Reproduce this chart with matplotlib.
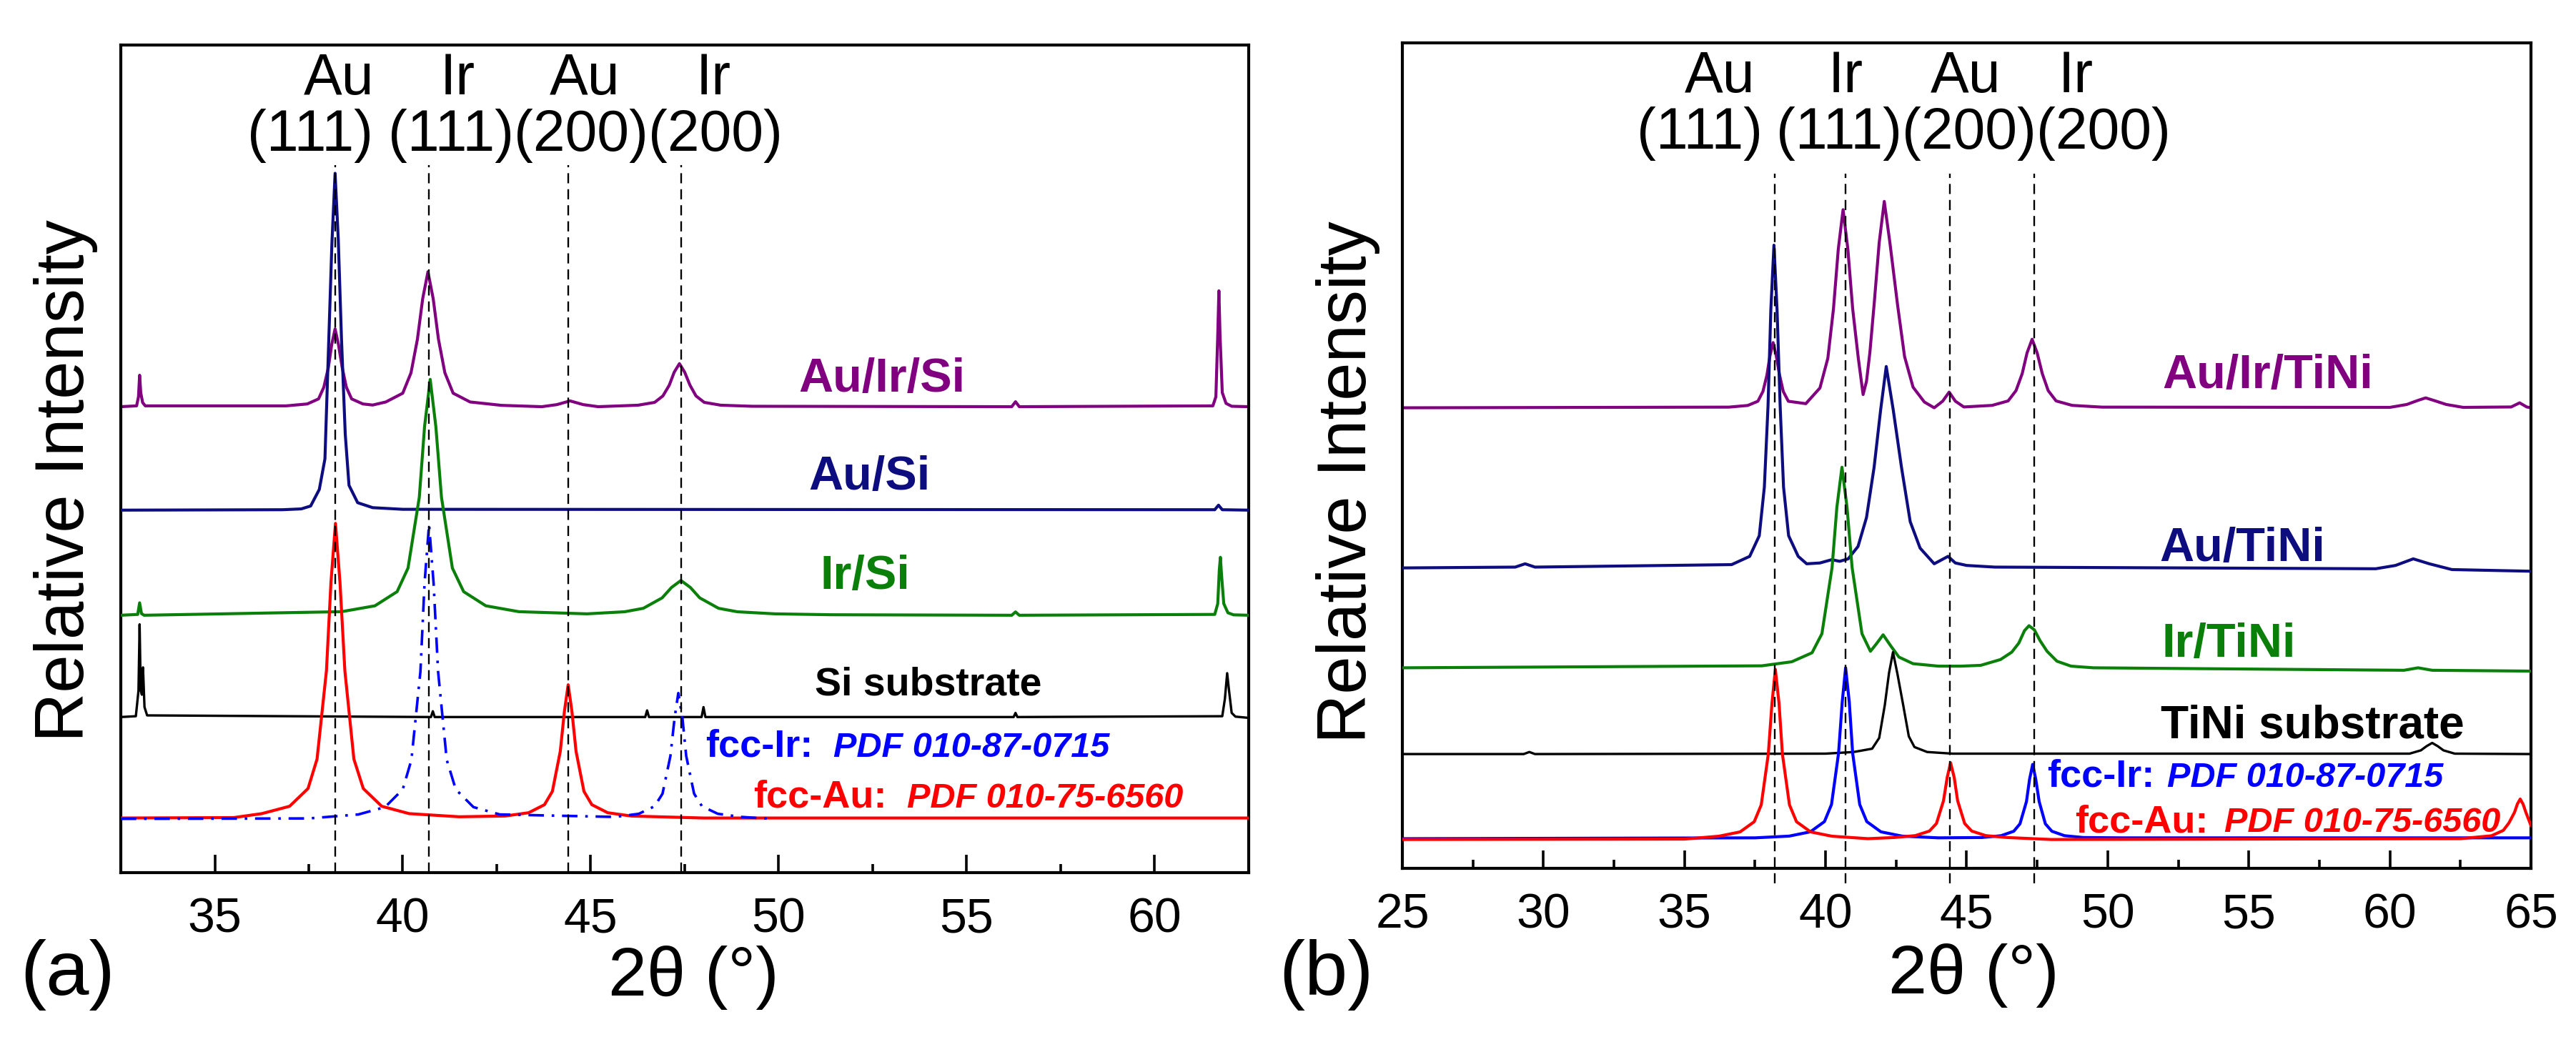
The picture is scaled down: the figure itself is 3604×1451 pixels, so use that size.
import matplotlib
matplotlib.use("Agg")
import matplotlib.pyplot as plt
from matplotlib.ticker import MultipleLocator

plt.rcParams['font.family'] = ['Liberation Sans', 'DejaVu Sans']

# ---------------- data : panel (a)  (x = 2theta, y = relative intensity, a.u.) ----------------
a_au_ir_si = [(32.5, 56.3), (32.92, 56.4), (32.97, 57.5), (33.0, 60.1), (33.03, 58.0), (33.08, 56.8),
              (33.15, 56.4), (36.9, 56.4), (37.46, 56.63), (37.76, 57.24), (37.9, 58.65), (38.02, 61.0),
              (38.11, 63.8), (38.2, 65.7), (38.29, 63.8), (38.39, 61.0), (38.5, 58.65), (38.64, 57.24),
              (38.94, 56.63), (39.2, 56.5), (39.55, 56.87), (40.0, 57.93), (40.22, 60.4), (40.39, 64.45),
              (40.53, 69.34), (40.67, 72.6), (40.81, 69.34), (40.95, 64.45), (41.12, 60.4), (41.34, 57.93),
              (41.79, 56.87), (42.63, 56.46), (43.7, 56.3), (44.1, 56.55), (44.45, 57.0), (44.8, 56.55),
              (45.2, 56.3), (46.26, 56.48), (46.7, 56.82), (46.92, 57.6), (47.09, 58.9), (47.22, 60.46),
              (47.36, 61.5), (47.5, 60.46), (47.64, 58.9), (47.8, 57.6), (48.02, 56.82), (48.46, 56.48),
              (49.29, 56.35), (56.2, 56.3), (56.3, 56.9), (56.4, 56.3), (61.55, 56.4), (61.63, 57.5),
              (61.68, 65.0), (61.71, 70.3), (61.74, 65.0), (61.8, 58.0), (61.9, 56.7), (62.05, 56.35),
              (62.5, 56.3)]
a_au_si = [(32.5, 43.8), (36.8, 43.85), (37.3, 43.95), (37.55, 44.3), (37.78, 46.3), (37.93, 50.0),
           (38.03, 64.1), (38.115, 76.0), (38.2, 84.5), (38.285, 76.5), (38.37, 64.5), (38.47, 53.0),
           (38.57, 46.8), (38.8, 44.7), (39.2, 44.1), (40.0, 43.9), (61.6, 43.85), (61.7, 44.4),
           (61.8, 43.85), (62.5, 43.8)]
a_ir_si = [(32.5, 31.1), (32.95, 31.2), (33.0, 32.6), (33.05, 31.3), (33.12, 31.1), (38.37, 31.53),
           (39.26, 32.24), (39.85, 33.95), (40.14, 36.8), (40.44, 45.35), (40.58, 53.9), (40.73, 59.6),
           (40.88, 53.9), (41.03, 45.35), (41.32, 36.8), (41.62, 33.95), (42.21, 32.24), (43.09, 31.53),
           (44.9, 31.27), (45.9, 31.52), (46.4, 31.94), (46.9, 33.2), (47.15, 34.46), (47.4, 35.3),
           (47.65, 34.46), (47.9, 33.2), (48.4, 31.94), (48.9, 31.52), (49.9, 31.27), (51.4, 31.16),
           (56.2, 31.1), (56.3, 31.5), (56.4, 31.1), (61.6, 31.2), (61.68, 32.5), (61.72, 36.5),
           (61.75, 38.1), (61.78, 36.0), (61.84, 32.5), (61.95, 31.4), (62.1, 31.15), (62.5, 31.1)]
a_si_sub = [(32.5, 18.8), (32.9, 18.9), (32.97, 22.0), (33.0, 30.0), (33.03, 22.0), (33.06, 21.5),
            (33.09, 24.8), (33.13, 20.0), (33.2, 19.0), (40.75, 18.8), (40.8, 19.5), (40.85, 18.8),
            (46.45, 18.8), (46.5, 19.6), (46.55, 18.8), (47.95, 18.8), (48.0, 20.0), (48.05, 18.8),
            (56.25, 18.8), (56.3, 19.3), (56.35, 18.8), (61.8, 18.9), (61.87, 21.0), (61.93, 24.1),
            (61.98, 22.0), (62.05, 19.3), (62.15, 18.85), (62.5, 18.7)]
a_fcc_au = [(32.5, 6.6), (35.5, 6.65), (36.25, 7.13), (36.99, 8.02), (37.48, 10.16), (37.72, 13.72),
            (37.97, 24.4), (38.09, 35.08), (38.21, 42.2), (38.33, 35.08), (38.46, 24.4), (38.7, 13.72),
            (38.95, 10.16), (39.44, 8.02), (40.17, 7.13), (41.5, 6.75), (42.72, 6.84), (43.35, 7.24),
            (43.77, 8.21), (43.98, 9.82), (44.19, 14.65), (44.3, 19.48), (44.4, 22.7), (44.5, 19.48),
            (44.61, 14.65), (44.82, 9.82), (45.03, 8.21), (45.45, 7.24), (46.08, 6.84), (48.0, 6.6),
            (62.5, 6.6)]
a_fcc_ir = [(32.5, 6.5), (37.5, 6.55), (38.82, 7.03), (39.53, 7.92), (40.0, 10.06), (40.23, 13.62),
            (40.47, 24.3), (40.58, 34.98), (40.7, 42.1), (40.82, 34.98), (40.94, 24.3), (41.17, 13.62),
            (41.41, 10.06), (41.88, 7.92), (42.58, 7.03), (45.65, 6.73), (46.28, 7.11), (46.7, 8.02),
            (46.91, 9.54), (47.12, 14.1), (47.23, 18.66), (47.33, 21.7), (47.44, 18.66), (47.54, 14.1),
            (47.75, 9.54), (47.96, 8.02), (48.38, 7.11), (49.01, 6.73), (49.8, 6.5)]

# ---------------- data : panel (b) ----------------
b_au_ir_tini = [(25.0, 55.8), (36.57, 55.88), (37.24, 56.08), (37.6, 56.59), (37.78, 57.78), (37.92, 59.75),
                (38.03, 62.12), (38.14, 63.7), (38.25, 62.12), (38.37, 59.75), (38.5, 57.78), (38.68, 56.59),
                (39.3, 56.3), (39.8, 58.2), (40.08, 61.8), (40.28, 67.8), (40.45, 75.0), (40.62, 79.8),
                (40.79, 75.0), (40.96, 67.8), (41.16, 61.8), (41.33, 57.4), (41.45, 59.0), (41.57, 62.5),
                (41.72, 68.3), (41.9, 75.8), (42.08, 80.8), (42.28, 75.8), (42.55, 68.3), (42.8, 62.0),
                (43.1, 58.3), (43.5, 56.5), (43.85, 55.8), (44.15, 56.6), (44.38, 57.7), (44.6, 56.6),
                (44.9, 55.9), (45.9, 56.09), (46.47, 56.63), (46.75, 57.88), (46.97, 59.95), (47.14, 62.44),
                (47.32, 64.1), (47.5, 62.44), (47.68, 59.95), (47.89, 57.88), (48.17, 56.63), (48.74, 56.09),
                (49.8, 55.88), (60.0, 55.85), (60.6, 56.2), (61.0, 56.7), (61.27, 57.0), (61.55, 56.7),
                (62.0, 56.2), (62.6, 55.85), (64.3, 55.9), (64.6, 56.4), (64.85, 55.9), (65.0, 55.8)]
b_au_tini = [(25.0, 36.4), (29.0, 36.5), (29.35, 36.9), (29.7, 36.5), (36.67, 36.8), (37.31, 37.8),
             (37.65, 40.3), (37.83, 46.2), (37.96, 56.0), (38.06, 67.7), (38.17, 75.5), (38.28, 67.7),
             (38.39, 56.0), (38.51, 46.2), (38.69, 40.3), (39.03, 37.8), (39.33, 36.9), (39.8, 37.0),
             (40.22, 37.4), (40.5, 37.2), (40.8, 37.5), (41.15, 39.0), (41.45, 42.5), (41.72, 48.6),
             (41.95, 55.5), (42.15, 60.8), (42.4, 55.5), (42.69, 48.6), (43.0, 42.0), (43.35, 38.8),
             (43.85, 36.9), (44.34, 37.8), (44.6, 37.0), (45.0, 36.7), (46.0, 36.5), (59.5, 36.3),
             (60.2, 36.7), (60.83, 37.5), (61.4, 36.9), (62.2, 36.2), (65.0, 36.0)]
b_ir_tini = [(25.0, 24.3), (37.74, 24.54), (38.8, 25.03), (39.52, 26.12), (39.87, 28.43), (40.23, 36.45),
             (40.4, 43.74), (40.58, 48.6), (40.76, 43.74), (40.94, 36.45), (41.29, 28.43), (41.59, 26.3),
             (41.8, 27.2), (42.04, 28.3), (42.3, 27.0), (42.6, 25.6), (43.1, 24.8), (44.0, 24.5),
             (44.8, 24.5), (45.5, 24.6), (46.2, 25.3), (46.6, 26.2), (46.85, 27.3), (47.05, 28.8),
             (47.21, 29.4), (47.4, 28.9), (47.6, 27.6), (47.85, 26.3), (48.2, 25.1), (48.7, 24.5),
             (49.5, 24.3), (60.5, 24.0), (61.0, 24.3), (61.5, 24.0), (65.0, 23.9)]
b_tini_sub = [(25.0, 13.85), (29.3, 13.85), (29.5, 14.1), (29.7, 13.85), (40.0, 13.9), (41.0, 14.1),
              (41.65, 14.5), (41.9, 15.8), (42.1, 19.8), (42.25, 23.7), (42.39, 26.2), (42.55, 23.5),
              (42.75, 19.8), (42.95, 16.0), (43.15, 14.7), (43.6, 14.1), (44.5, 13.9), (60.7, 13.9),
              (61.1, 14.3), (61.3, 14.8), (61.5, 15.2), (61.7, 14.8), (61.9, 14.3), (62.3, 13.9),
              (65.0, 13.85)]
b_fcc_au = [(25.0, 3.5), (35.0, 3.55), (36.22, 3.9), (36.97, 4.42), (37.47, 5.65), (37.72, 7.7),
            (37.97, 13.85), (38.1, 20.0), (38.22, 24.1), (38.35, 20.0), (38.47, 13.85), (38.72, 7.7),
            (38.97, 5.65), (39.47, 4.42), (40.22, 3.9), (41.5, 3.6), (42.43, 3.74), (43.18, 3.97),
            (43.68, 4.52), (43.93, 5.44), (44.18, 8.2), (44.31, 11.0), (44.43, 12.8), (44.56, 11.0),
            (44.68, 8.2), (44.93, 5.44), (45.18, 4.52), (45.68, 3.97), (46.43, 3.74), (48.0, 3.5),
            (62.5, 3.6), (63.6, 3.95), (64.02, 4.6), (64.22, 5.5), (64.42, 6.8), (64.52, 7.8),
            (64.62, 8.4), (64.72, 7.8), (64.82, 6.8), (65.0, 5.2)]
b_fcc_ir = [(25.0, 3.6), (37.5, 3.7), (38.71, 3.91), (39.46, 4.43), (39.96, 5.67), (40.21, 7.74),
            (40.46, 13.95), (40.59, 20.16), (40.71, 24.3), (40.84, 20.16), (40.96, 13.95), (41.21, 7.74),
            (41.46, 5.67), (41.96, 4.43), (42.71, 3.91), (44.0, 3.7), (45.54, 3.74), (46.22, 3.96),
            (46.67, 4.5), (46.89, 5.4), (47.12, 8.1), (47.23, 10.8), (47.34, 12.6), (47.45, 10.8),
            (47.57, 8.1), (47.79, 5.4), (48.02, 4.5), (48.47, 3.96), (49.14, 3.74), (50.5, 3.7),
            (65.0, 3.7)]

peak_positions = [38.2, 40.7, 44.4, 47.4]
peak_elements = ["Au", "Ir", "Au", "Ir"]
peak_hkl = ["(111)", "(111)", "(200)", "(200)"]

a_names = ["Au/Ir/Si", "Au/Si", "Ir/Si", "Si substrate"]
b_names = ["Au/Ir/TiNi", "Au/TiNi", "Ir/TiNi", "TiNi substrate"]
ref_names = ["fcc-Ir:", "fcc-Au:"]
ref_cards = ["PDF 010-87-0715", "PDF 010-75-6560"]

PURPLE = '#800080'
NAVY = '#0d0d80'
GREEN = '#0a800a'
RED = '#ff0000'
BLUE = '#0000ff'
BLACK = '#000000'

LW = 3.0

fig = plt.figure(figsize=(36.04, 14.51), dpi=100)
axa = fig.add_axes([0.0469, 0.1585, 0.4378, 0.7981])
axb = fig.add_axes([0.5444, 0.1626, 0.4381, 0.7960])


def xy(pairs):
    return [p[0] for p in pairs], [p[1] for p in pairs]


for ax in (axa, axb):
    ax.set_ylim(0, 100)
    ax.set_yticks([])
    for s in ax.spines.values():
        s.set_linewidth(3.0)
    ax.xaxis.set_major_locator(MultipleLocator(5))
    ax.xaxis.set_minor_locator(MultipleLocator(2.5))
    ax.tick_params(axis='x', which='major', direction='in', length=18, width=2.6,
                   labelsize=49, pad=24)
    ax.tick_params(axis='x', which='minor', direction='in', length=9, width=2.6)

axa.set_xlim(32.5, 62.5)
axb.set_xlim(25, 65)

# ---- panel (a) curves ----
axa.plot(*xy(a_au_ir_si), color=PURPLE, lw=LW, zorder=2)
axa.plot(*xy(a_au_si), color=NAVY, lw=LW, zorder=3)
axa.plot(*xy(a_ir_si), color=GREEN, lw=LW, zorder=4)
axa.plot(*xy(a_si_sub), color=BLACK, lw=2.4, zorder=5)
axa.plot(*xy(a_fcc_au), color=RED, lw=LW, zorder=6)
axa.plot(*xy(a_fcc_ir), color=BLUE, lw=2.6, zorder=7, linestyle=(0, (6, 3, 1, 3)))

# ---- panel (b) curves ----
axb.plot(*xy(b_au_ir_tini), color=PURPLE, lw=LW, zorder=2)
axb.plot(*xy(b_au_tini), color=NAVY, lw=LW, zorder=3)
axb.plot(*xy(b_ir_tini), color=GREEN, lw=LW, zorder=4)
axb.plot(*xy(b_tini_sub), color=BLACK, lw=2.4, zorder=5)
axb.plot(*xy(b_fcc_ir), color=BLUE, lw=LW, zorder=6)
axb.plot(*xy(b_fcc_au), color=RED, lw=LW, zorder=7)

# ---- reference lines ----
axa.vlines(peak_positions, 0, 85.5, colors='k', linestyles=(0, (6, 3.5)), lw=1.7, zorder=9)
axb.vlines(peak_positions, -1.8, 84.2, colors='k', linestyles=(0, (6, 3.5)), lw=1.7, zorder=9,
           clip_on=False)

# ---- peak header labels ----
a_el_x = [38.3, 41.45, 44.85, 48.27]
a_hkl_x = [37.54, 41.29, 44.74, 48.32]
b_el_x = [36.26, 40.72, 44.97, 48.88]
b_hkl_x = [35.53, 40.49, 45.09, 49.84]
for ax, ex, hx in ((axa, a_el_x, a_hkl_x), (axb, b_el_x, b_hkl_x)):
    for i in range(4):
        ax.text(ex[i], 94.0, peak_elements[i], ha='center', va='baseline', fontsize=58, clip_on=False)
        ax.text(hx[i], 87.2, peak_hkl[i], ha='center', va='baseline', fontsize=58, clip_on=False)

# ---- series labels ----
cols = [PURPLE, NAVY, GREEN, BLACK]
a_lab_pos = [(52.75, 58.15), (52.42, 46.3), (52.31, 34.3), (53.97, 21.5)]
a_lab_fs = [48, 48, 48, 40]
b_lab_pos = [(55.67, 58.2), (54.77, 37.2), (54.3, 25.6), (57.27, 15.8)]
b_lab_fs = [48, 48, 48, 46]
for i in range(4):
    axa.text(*a_lab_pos[i], a_names[i], color=cols[i], fontsize=a_lab_fs[i], fontweight='bold',
             ha='center', va='baseline')
    axb.text(*b_lab_pos[i], b_names[i], color=cols[i], fontsize=b_lab_fs[i], fontweight='bold',
             ha='center', va='baseline')

ref_cols = [BLUE, RED]
a_ref_pos = [(48.06, 14.0, 51.45), (49.32, 7.9, 53.41)]
b_ref_pos = [(47.86, 9.9, 52.1), (48.83, 4.4, 54.13)]
for ax, pos in ((axa, a_ref_pos), (axb, b_ref_pos)):
    for i in range(2):
        x0, y0, x1 = pos[i]
        ax.text(x0, y0, ref_names[i], color=ref_cols[i], fontsize=39, fontweight='bold',
                ha='left', va='baseline')
        ax.text(x1, y0, ref_cards[i], color=ref_cols[i], fontsize=35, fontweight='bold',
                style='italic', ha='left', va='baseline')

# ---- axis titles and panel letters ----
fig.text(0.0255, 0.5362, 'Relative Intensity', rotation=90, fontsize=69, ha='center', va='center')
fig.text(0.5233, 0.5348, 'Relative Intensity', rotation=90, fontsize=69, ha='center', va='center')
fig.text(0.2691, 0.0572, '2\u03b8 (\u00b0)', fontsize=70, ha='center', va='center')
fig.text(0.7661, 0.0596, '2\u03b8 (\u00b0)', fontsize=70, ha='center', va='center')
fig.text(0.0261, 0.060, '(a)', fontsize=78, ha='center', va='center')
fig.text(0.5147, 0.060, '(b)', fontsize=78, ha='center', va='center')

fig.savefig('out.png', dpi=100)
